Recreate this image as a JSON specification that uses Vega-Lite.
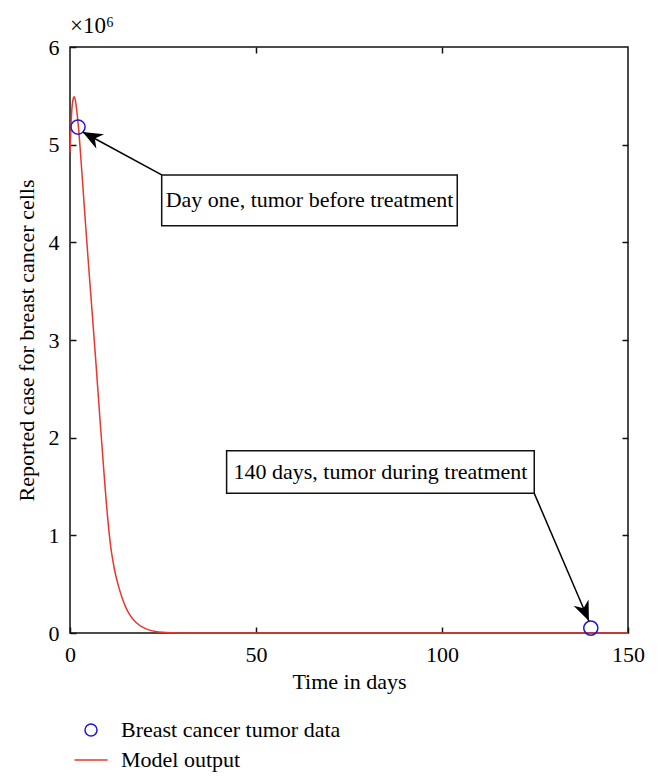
{
  "$schema": "https://vega.github.io/schema/vega-lite/v6.json",
  "autosize": {"type": "none"},
  "width": 558,
  "height": 586,
  "padding": {"left": 70, "top": 47, "right": 29, "bottom": 150},
  "background": "white",
  "title": {"text": "×10⁶", "anchor": "start", "frame": "group", "offset": -2, "font": "Liberation Serif", "fontSize": 23, "fontWeight": "normal", "color": "black"},
  "config": {
    "view": {"stroke": "#111", "strokeWidth": 1.5},
    "font": "Liberation Serif",
    "axis": {"labelFont": "Liberation Serif", "titleFont": "Liberation Serif", "labelColor": "black", "titleColor": "black", "labelFontSize": 22, "titleFontSize": 22, "titleFontWeight": "normal", "tickColor": "#111", "tickWidth": 1.5, "grid": false, "domain": false, "labelFlush": false, "labelOverlap": false}
  },
  "datasets": {
    "model": [
      {"t": 0, "cells": 4920000, "series": "Model output"},
      {"t": 0.25, "cells": 5180000, "series": "Model output"},
      {"t": 0.5, "cells": 5360000, "series": "Model output"},
      {"t": 0.8, "cells": 5460000, "series": "Model output"},
      {"t": 1.15, "cells": 5490000, "series": "Model output"},
      {"t": 1.5, "cells": 5440000, "series": "Model output"},
      {"t": 1.9, "cells": 5320000, "series": "Model output"},
      {"t": 2.3, "cells": 5170000, "series": "Model output"},
      {"t": 3, "cells": 4820000, "series": "Model output"},
      {"t": 4, "cells": 4280000, "series": "Model output"},
      {"t": 5, "cells": 3760000, "series": "Model output"},
      {"t": 6, "cells": 3260000, "series": "Model output"},
      {"t": 7, "cells": 2750000, "series": "Model output"},
      {"t": 8, "cells": 2220000, "series": "Model output"},
      {"t": 9, "cells": 1710000, "series": "Model output"},
      {"t": 9.5, "cells": 1460000, "series": "Model output"},
      {"t": 10, "cells": 1230000, "series": "Model output"},
      {"t": 10.5, "cells": 1030000, "series": "Model output"},
      {"t": 11, "cells": 870000, "series": "Model output"},
      {"t": 11.5, "cells": 745000, "series": "Model output"},
      {"t": 12, "cells": 640000, "series": "Model output"},
      {"t": 13, "cells": 485000, "series": "Model output"},
      {"t": 14, "cells": 360000, "series": "Model output"},
      {"t": 15, "cells": 262000, "series": "Model output"},
      {"t": 16, "cells": 190000, "series": "Model output"},
      {"t": 17, "cells": 138000, "series": "Model output"},
      {"t": 18, "cells": 100000, "series": "Model output"},
      {"t": 19.5, "cells": 60000, "series": "Model output"},
      {"t": 21, "cells": 35000, "series": "Model output"},
      {"t": 23, "cells": 16000, "series": "Model output"},
      {"t": 25, "cells": 7000, "series": "Model output"},
      {"t": 27, "cells": 3000, "series": "Model output"},
      {"t": 30, "cells": 1000, "series": "Model output"},
      {"t": 35, "cells": 0, "series": "Model output"},
      {"t": 150, "cells": 0, "series": "Model output"}
    ],
    "tumor": [
      {"t": 2.15, "cells": 5180000, "series": "Breast cancer tumor data"},
      {"t": 140, "cells": 50000, "series": "Breast cancer tumor data"}
    ],
    "notes": [
      {"label": "Day one, tumor before treatment", "t1": 24.65, "t2": 104.1, "c1": 4170000, "c2": 4690000, "tx": 64.4, "cy": 4430000},
      {"label": "140 days, tumor during treatment", "t1": 42.1, "t2": 124.8, "c1": 1430000, "c2": 1867000, "tx": 83.45, "cy": 1650000}
    ],
    "arrows": [
      {"id": "day1", "t0": 24.65, "c0": 4690000, "t1": 3.41, "c1": 5130000},
      {"id": "day140", "t0": 124.8, "c0": 1430000, "t1": 139.5, "c1": 123000}
    ]
  },
  "resolve": {"axis": {"x": "independent", "y": "independent"}},
  "layer": [
    {
      "data": {"name": "model"},
      "mark": {"type": "line", "interpolate": "monotone", "strokeWidth": 1.5},
      "encoding": {
        "x": {"field": "t", "type": "quantitative", "scale": {"domain": [0, 150], "nice": false, "zero": false},
          "axis": {"orient": "bottom", "values": [0, 50, 100, 150], "tickSize": -6, "labelPadding": 17, "title": "Time in days", "titlePadding": 6}},
        "y": {"field": "cells", "type": "quantitative", "scale": {"domain": [0, 6000000], "nice": false},
          "axis": {"orient": "left", "values": [0, 1000000, 2000000, 3000000, 4000000, 5000000, 6000000], "labelExpr": "datum.value / 1000000", "tickSize": -6, "labelPadding": 17, "title": "Reported case for breast cancer cells", "titlePadding": 10}},
        "color": {"field": "series", "type": "nominal",
          "scale": {"domain": ["Breast cancer tumor data", "Model output"], "range": ["#1a1adb", "#e8372c"]},
          "legend": {"orient": "none", "legendX": 10, "legendY": 672, "title": null, "direction": "vertical", "padding": 0,
            "labelFont": "Liberation Serif", "labelFontSize": 22, "labelColor": "black", "labelLimit": 0, "symbolSize": 144, "symbolStrokeWidth": 1.5, "labelOffset": 19, "rowPadding": 8,
            "encode": {"symbols": {"update": {
              "shape": {"signal": "datum.value === 'Model output' ? 'stroke' : 'circle'"},
              "size": {"signal": "datum.value === 'Model output' ? 1100 : 144"},
              "fill": {"value": "transparent"},
              "stroke": {"signal": "datum.value === 'Model output' ? '#e8372c' : '#1a1adb'"},
              "strokeWidth": {"value": 1.5},
              "opacity": {"value": 1}
            }}}}
        }
      }
    },
    {
      "data": {"name": "tumor"},
      "mark": {"type": "point", "filled": false, "size": 200, "strokeWidth": 1.5, "opacity": 1},
      "encoding": {
        "x": {"field": "t", "type": "quantitative", "scale": {"domain": [0, 150], "nice": false, "zero": false},
          "axis": {"orient": "top", "values": [50, 100], "tickSize": -6, "labels": false, "title": null}},
        "y": {"field": "cells", "type": "quantitative", "scale": {"domain": [0, 6000000], "nice": false},
          "axis": {"orient": "right", "values": [1000000, 2000000, 3000000, 4000000, 5000000], "tickSize": -6, "labels": false, "title": null}},
        "color": {"field": "series", "type": "nominal"}
      }
    },
    {
      "data": {"name": "arrows"},
      "mark": {"type": "rule", "color": "black", "strokeWidth": 1.5},
      "encoding": {
        "x": {"field": "t0", "type": "quantitative", "axis": null},
        "y": {"field": "c0", "type": "quantitative", "axis": null},
        "x2": {"field": "t1"},
        "y2": {"field": "c1"}
      }
    },
    {
      "data": {"name": "arrows"},
      "transform": [{"filter": "datum.id === 'day1'"}],
      "mark": {"type": "point", "shape": "M0,0L0.65,1.6L0,1.1L-0.65,1.6Z", "filled": true, "color": "black", "size": 625, "angle": 298.4, "opacity": 1, "strokeWidth": 0},
      "encoding": {
        "x": {"field": "t1", "type": "quantitative", "axis": null},
        "y": {"field": "c1", "type": "quantitative", "axis": null}
      }
    },
    {
      "data": {"name": "arrows"},
      "transform": [{"filter": "datum.id === 'day140'"}],
      "mark": {"type": "point", "shape": "M0,0L0.65,1.6L0,1.1L-0.65,1.6Z", "filled": true, "color": "black", "size": 625, "angle": 156.8, "opacity": 1, "strokeWidth": 0},
      "encoding": {
        "x": {"field": "t1", "type": "quantitative", "axis": null},
        "y": {"field": "c1", "type": "quantitative", "axis": null}
      }
    },
    {
      "data": {"name": "notes"},
      "mark": {"type": "rect", "fill": "white", "stroke": "#111", "strokeWidth": 1.5},
      "encoding": {
        "x": {"field": "t1", "type": "quantitative", "axis": null},
        "x2": {"field": "t2"},
        "y": {"field": "c1", "type": "quantitative", "axis": null},
        "y2": {"field": "c2"}
      }
    },
    {
      "data": {"name": "notes"},
      "mark": {"type": "text", "font": "Liberation Serif", "fontSize": 22, "color": "black", "align": "center", "baseline": "middle"},
      "encoding": {
        "x": {"field": "tx", "type": "quantitative", "axis": null},
        "y": {"field": "cy", "type": "quantitative", "axis": null},
        "text": {"field": "label"}
      }
    }
  ]
}
